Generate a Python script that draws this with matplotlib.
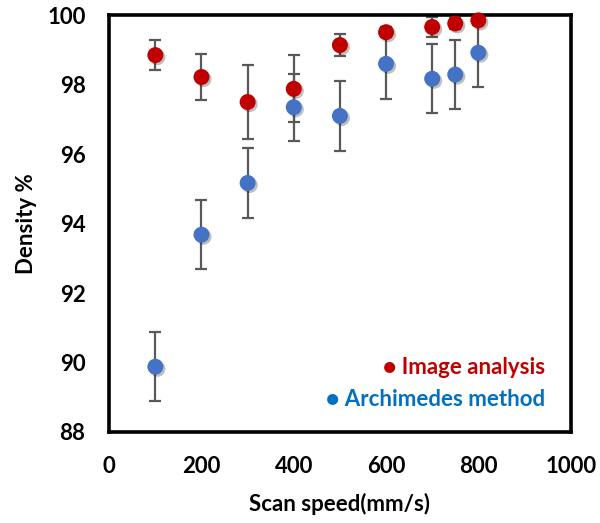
import matplotlib
matplotlib.use("Agg")
import matplotlib.pyplot as plt
import matplotlib.patheffects as pe

# scan speed (mm/s)
speed = [100, 200, 300, 400, 500, 600, 700, 750, 800]

# image analysis density (%) and error
image_density = [98.85, 98.22, 97.50, 97.88, 99.14, 99.51, 99.66, 99.76, 99.85]
image_err = [0.43, 0.66, 1.07, 0.96, 0.32, 0.15, 0.30, 0.15, 0.12]

# archimedes density (%) and error
arch_density = [89.88, 93.68, 95.17, 97.35, 97.10, 98.60, 98.17, 98.29, 98.92]
arch_err = [1.0, 1.0, 1.0, 0.97, 1.0, 1.0, 1.0, 1.0, 1.0]

xticks = [0, 200, 400, 600, 800, 1000]
yticks = [88, 90, 92, 94, 96, 98, 100]

plt.rcParams['font.family'] = ['Lato', 'DejaVu Sans']
plt.rcParams['font.weight'] = 'bold'

fig = plt.figure(figsize=(6, 5.23), dpi=100)
ax = fig.add_axes([0.182, 0.174, 0.769, 0.797])

shadow = [pe.SimplePatchShadow(offset=(1.5, -1.5), shadow_rgbFace='k', alpha=0.25), pe.Normal()]

for y, err, col in [(arch_density, arch_err, '#4472C4'), (image_density, image_err, '#C00000')]:
    ax.errorbar(speed, y, yerr=err, fmt='none', ecolor='#595959', elinewidth=1.6,
                capsize=4, capthick=1.6, clip_on=False, zorder=2)
    line, = ax.plot(speed, y, 'o', color=col, markersize=11.5, markeredgewidth=0,
                    clip_on=False, zorder=3)
    line.set_path_effects(shadow)

ax.set_xlim(0, 1000)
ax.set_ylim(88, 100)
ax.set_xticks(xticks)
ax.set_yticks(yticks)
ax.tick_params(axis='both', length=0, labelsize=16)
ax.tick_params(axis='x', pad=17)
ax.tick_params(axis='y', pad=17)
for s in ax.spines.values():
    s.set_linewidth(2.6)
    s.set_color('black')

ax.set_xlabel('Scan speed(mm/s)', fontsize=16, fontweight='bold', labelpad=12)
ax.set_ylabel('Density %', fontsize=16, fontweight='bold', labelpad=7)

ax.text(0.945, 0.155, '\u25CF Image analysis', transform=ax.transAxes, ha='right', va='center',
        color='#C00000', fontsize=16, fontweight='bold')
ax.text(0.945, 0.078, '\u25CF Archimedes method', transform=ax.transAxes, ha='right', va='center',
        color='#0070C0', fontsize=16, fontweight='bold')

fig.savefig('out.png', dpi=100)
